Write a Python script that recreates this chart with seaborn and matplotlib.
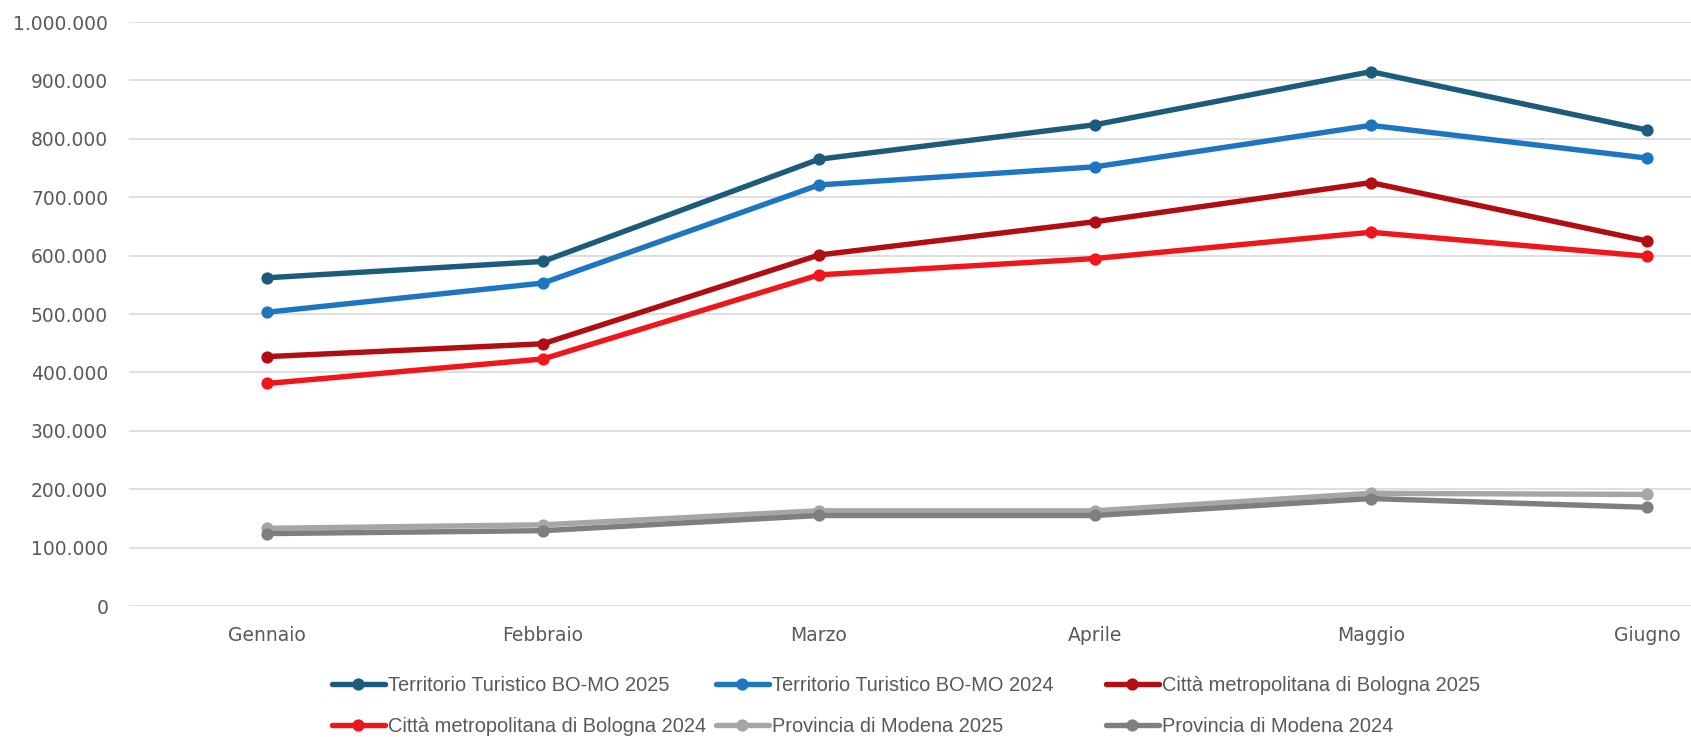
import matplotlib
matplotlib.use("Agg")
import matplotlib.pyplot as plt
import seaborn as sns
import pandas as pd
from matplotlib.ticker import FuncFormatter, MultipleLocator

months = ["Gennaio", "Febbraio", "Marzo", "Aprile", "Maggio", "Giugno"]
series_names = [
    "Territorio Turistico BO-MO 2025",
    "Territorio Turistico BO-MO 2024",
    "Città metropolitana di Bologna 2025",
    "Città metropolitana di Bologna 2024",
    "Provincia di Modena 2025",
    "Provincia di Modena 2024",
]
terr_2025 = [562000, 590000, 765000, 824000, 915000, 815000]
terr_2024 = [503000, 553000, 721000, 752000, 823000, 767000]
bo_2025 = [427000, 449000, 601000, 658000, 725000, 625000]
bo_2024 = [381000, 423000, 567000, 595000, 640000, 599000]
mo_2025 = [133000, 139000, 163000, 163000, 193000, 191000]
mo_2024 = [124000, 129000, 155000, 155000, 184000, 169000]
colors = ["#1D5B7C", "#1E76C0", "#B00E12", "#F0171C", "#A6A6A6", "#7F7F7F"]

values = [terr_2025, terr_2024, bo_2025, bo_2024, mo_2025, mo_2024]
rows = []
for name, vals in zip(series_names, values):
    for m, v in zip(months, vals):
        rows.append({"Mese": m, "Valore": v, "Serie": name})
df = pd.DataFrame(rows)

sns.set_theme(style="white")
plt.rcParams["font.family"] = ["DejaVu Sans"]

fig = plt.figure(figsize=(16.91, 7.37), dpi=100)
W, H = 1691, 737
ax = fig.add_axes([129 / W, (H - 606) / H, (1691 - 129) / W, (606 - 22) / H])

sns.lineplot(
    data=df, x="Mese", y="Valore", hue="Serie", hue_order=series_names,
    palette=colors, marker="o", markersize=8.8, markeredgewidth=0,
    linewidth=3.9, sort=False, ax=ax, legend=True,
)

ax.set_ylim(0, 1000000)
ax.set_xlim(-0.5, 5.16)
ax.yaxis.set_major_locator(MultipleLocator(100000))
ax.yaxis.set_major_formatter(FuncFormatter(lambda v, p: f"{int(v):,}".replace(",", ".")))
ax.grid(axis="y", color="#D9D9D9", linewidth=1.2)
ax.set_axisbelow(True)
for s in ax.spines.values():
    s.set_visible(False)
ax.set_xlabel("")
ax.set_ylabel("")
ax.tick_params(axis="y", length=0, pad=15, labelsize=13.5, labelcolor="#595959")
ax.tick_params(axis="x", length=0, pad=14.5, labelsize=13.5, labelcolor="#595959")

handles, labels = ax.get_legend_handles_labels()
ax.get_legend().remove()

# one legend per column, rows filled left to right
col_x = [332, 716, 1106]
columns = [[0, 3], [1, 4], [2, 5]]
for cx, idxs in zip(col_x, columns):
    fig.legend(
        [handles[i] for i in idxs], [labels[i] for i in idxs],
        loc="center left", bbox_to_anchor=(cx / W, 1 - 706 / H),
        frameon=False, borderpad=0, borderaxespad=0,
        handlelength=2.64, handletextpad=0.15, labelspacing=1.12,
        prop={"family": ["Liberation Sans", "DejaVu Sans"], "size": 14.4},
        labelcolor="#595959",
    )

fig.savefig("out.png", dpi=100)
